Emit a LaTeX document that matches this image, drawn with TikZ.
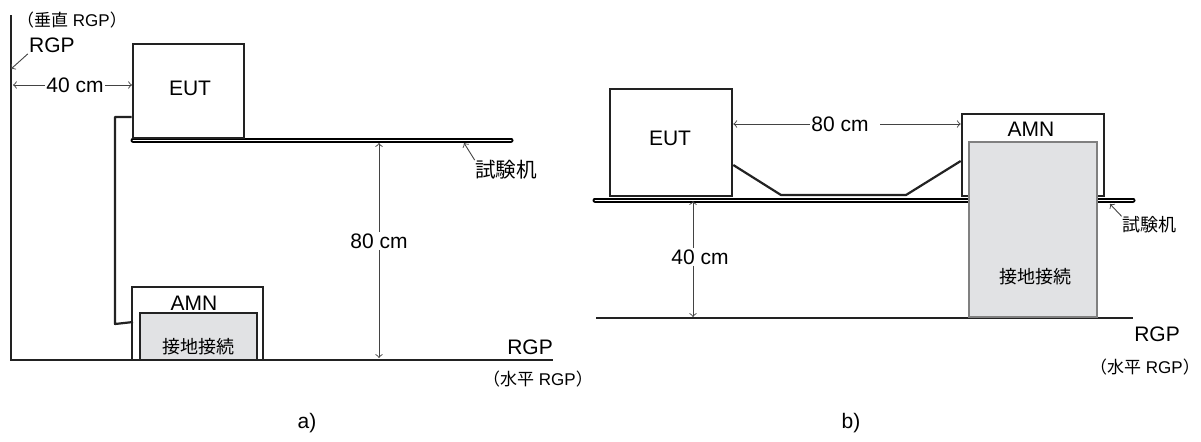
\documentclass[tikz,border=0pt]{standalone}
\usepackage{fontspec}
\setmainfont{Liberation Sans}
\newfontfamily\cjk{Noto Sans CJK JP}
\usepackage{tikz}
\usetikzlibrary{calc}
\definecolor{earthgray}{HTML}{E1E2E4}
\definecolor{inkgray}{HTML}{222222}
\tikzset{
    unitbox/.style={draw=inkgray,line width=1.3pt,fill=white,inner sep=0pt},
    earthbox/.style={draw=inkgray,line width=1.1pt,fill=earthgray,inner sep=0pt},
    wire/.style={draw=inkgray,line width=1.1pt,line join=round},
    plane/.style={draw=inkgray,line width=1.2pt},
    bench/.style={draw=black,line width=1pt,double=white,double distance=0.5pt,line cap=round},
    dim/.style={draw=inkgray!85,line width=0.45pt},
    lbl/.style={inner sep=0.5pt,font=\fontsize{10.5}{12}\selectfont},
    smalllbl/.style={inner sep=0pt,font=\fontsize{8.5}{10}\selectfont},
    cjklbl/.style={inner sep=0pt,font=\cjk\fontsize{9}{11}\selectfont}
}
\begin{document}
\begin{tikzpicture}[x=0.5pt,y=-0.5pt]
        \useasboundingbox (0,0) rectangle (1201,441);

        % a)
        \coordinate (vtopa) at (11,15);
        \coordinate (cornera) at (11,360);
        \coordinate (grounda) at (553,360);
        \coordinate (bencha) at (133,140);
        \coordinate (benchenda) at (511,140);
        \coordinate (wireup) at (115,117);
        \coordinate (wirelow) at (115,324);
        \coordinate (wirein) at (133,322);

        \draw[plane] (vtopa) -- (cornera) -- (grounda);
        \draw[bench] (bencha) -- (benchenda);

        \node[unitbox,minimum width=55.5pt,minimum height=47pt] (euta) at (188.5,91) {};
        \node[lbl] (euttexta) at (190,88) {EUT};
        \node[unitbox,line width=1.2pt,minimum width=65.5pt,minimum height=36.5pt] (amna) at (197.5,323.5) {};
        \node[earthbox,minimum width=58.5pt,minimum height=23.5pt] (eartha) at (198.5,336.5) {};
        \node[lbl] (amntexta) at (194,303) {AMN};
        \node[cjklbl] (earthtexta) at (198,347) {接地接続};

        \draw[wire] (euta.west |- wireup) -- (wireup) -- (wirelow) -- (wirein);

        \node[lbl] (rgpva) at (52,45) {RGP};
        \node[smalllbl] (vnote) at (72,20) {{\cjk （垂直} RGP{\cjk ）}};
        \node[lbl] (d40a) at (75,85) {40 cm};
        \node[lbl] (d80a) at (379,241) {80 cm};
        \node[lbl] (rgpha) at (530,347) {RGP};
        \node[smalllbl] (hnotea) at (538,379) {{\cjk （水平} RGP{\cjk ）}};
        \node[cjklbl,font=\cjk\fontsize{10.3}{12}\selectfont] (testa) at (506,170) {試験机};
        \node[lbl] (capa) at (307,423) {a)};

        \coordinate (d80topa) at (379,143);
        \coordinate (d80lowa) at (379,358);
        \coordinate (d40lefta) at (13,85);
        \coordinate (d40righta) at (132,85);
        \coordinate (rgptipa) at (11,69);
        \coordinate (testtipa) at (464,143);

        \draw[dim,->] (d40a.west) -- (d40lefta);
        \draw[dim,->] (d40a.east) -- (d40righta);
        \draw[dim,->] (d80a.north) -- (d80topa);
        \draw[dim,->] (d80a.south) -- (d80lowa);
        \draw[dim,->] (rgpva.south west) -- (rgptipa);
        \draw[dim,->] (testa.north west) -- (testtipa);

        % b)
        \coordinate (benchb) at (595,200);
        \coordinate (benchendb) at (1133,200);
        \coordinate (groundb) at (596,318);
        \coordinate (groundendb) at (1133,318);
        \coordinate (wire1) at (781,195);
        \coordinate (wire2) at (906,195);

        \draw[bench] (benchb) -- (benchendb);
        \draw[plane] (groundb) -- (groundendb);

        \node[unitbox,minimum width=61pt,minimum height=53.5pt] (eutb) at (671,142.5) {};
        \node[lbl] (euttextb) at (670,138) {EUT};
        \node[unitbox,minimum width=71pt,minimum height=41pt] (amnb) at (1033,155) {};
        \node[earthbox,draw=gray,line width=0.8pt,minimum width=64pt,minimum height=87.5pt] (earthb) at (1033,229.5) {};
        \node[lbl] (amntextb) at (1031,129) {AMN};
        \node[cjklbl] (earthtextb) at (1035,277) {接地接続};

        \draw[wire] (eutb.east |- 0,165) -- (wire1) -- (wire2) -- (amnb.west |- 0,161);

        \node[lbl] (d80b) at (840,124) {80 cm};
        \node[lbl] (d40b) at (700,257) {40 cm};
        \node[lbl] (rgphb) at (1157,334) {RGP};
        \node[smalllbl] (hnoteb) at (1145,367) {{\cjk （水平} RGP{\cjk ）}};
        \node[cjklbl] (testb) at (1149,225) {試験机};
        \node[lbl] (capb) at (851,423) {b)};

        \coordinate (d40topb) at (693,201);
        \coordinate (d40lowb) at (693,317);
        \coordinate (d80startb) at (880,124);
        \coordinate (testtipb) at (1110,204);

        \draw[dim,->] (d80b.west) -- (eutb.east |- d80b.west);
        \draw[dim,->] (d80startb) -- (amnb.west |- d80startb);
        \draw[dim,->] (d40b.north -| d40topb) -- (d40topb);
        \draw[dim,->] (d40b.south -| d40lowb) -- (d40lowb);
        \draw[dim,->] (testb.north west) -- (testtipb);
\end{tikzpicture}
\end{document}
